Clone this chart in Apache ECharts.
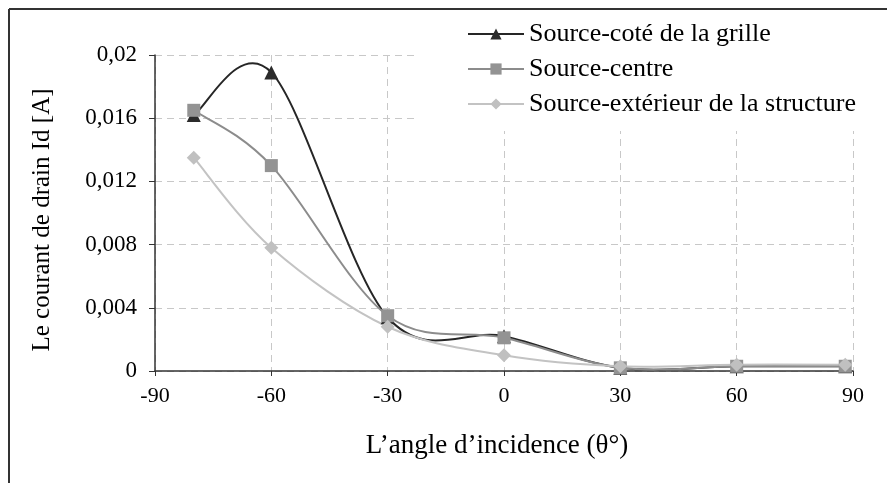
<!DOCTYPE html>
<html>
<head>
<meta charset="utf-8">
<script src="https://cdn.jsdelivr.net/npm/echarts@6/dist/echarts.min.js"></script>
<style>
html,body{margin:0;padding:0;background:#fff;}
#chart{width:887px;height:483px;}
</style>
</head>
<body>
<div id="chart"></div>
<script>
var angles = [-80, -60, -30, 0, 30, 60, 88];
var coteGrille = [0.0162, 0.0189, 0.0034, 0.0022, 0.0002, 0.0003, 0.0003];
var centre = [0.0165, 0.0130, 0.0035, 0.0021, 0.0002, 0.0003, 0.0003];
var exterieur = [0.0135, 0.0078, 0.0028, 0.0010, 0.0003, 0.0004, 0.0004];
var seriesNames = ['Source-coté de la grille', 'Source-centre', 'Source-extérieur de la structure'];
var xTitle = 'L’angle d’incidence (θ°)';
var yTitle = 'Le courant de drain Id [A]';

var colors = {
  line: ['#262626', '#8c8c8c', '#c3c3c3'],
  marker: ['#2b2b2b', '#939393', '#c0c0c0']
};

function pairs(ys){ return angles.map(function(a,i){ return [a, ys[i]]; }); }

// Smooth curve through the data points (Catmull-Rom style Bezier, as a spreadsheet "smoothed line")
var K = 1/6;
function smoothPath(api, ys){
  var pts = angles.map(function(a,i){ return api.coord([a, ys[i]]); });
  var n = pts.length;
  var d = 'M' + pts[0][0] + ' ' + pts[0][1];
  for (var i = 0; i < n - 1; i++){
    var p0 = pts[Math.max(i-1,0)], p1 = pts[i], p2 = pts[i+1], p3 = pts[Math.min(i+2,n-1)];
    var c1x = p1[0] + (p2[0]-p0[0])*K, c1y = p1[1] + (p2[1]-p0[1])*K;
    var c2x = p2[0] - (p3[0]-p1[0])*K, c2y = p2[1] - (p3[1]-p1[1])*K;
    d += ' C' + c1x + ' ' + c1y + ' ' + c2x + ' ' + c2y + ' ' + p2[0] + ' ' + p2[1];
  }
  return d;
}
function curveSeries(ys, idx){
  return {
    type: 'custom', silent: true, z: 2 + idx * 0.1,
    data: [[angles[0], ys[0]]],
    renderItem: function(params, api){
      return {type: 'path', shape: {pathData: smoothPath(api, ys)},
              style: {fill: 'none', stroke: colors.line[idx], lineWidth: 2}};
    }
  };
}

var FONT = '"Liberation Serif", "Times New Roman", serif';
var chart = echarts.init(document.getElementById('chart'));
chart.setOption({
  animation: false,
  backgroundColor: '#fff',
  textStyle: {fontFamily: FONT, color: '#000'},
  grid: {left: 155, right: 34, top: 55, bottom: 112},
  legend: {
    orient: 'vertical',
    left: 418, top: 10,
    padding: [11, 40, 14, 49],
    backgroundColor: '#fff',
    itemWidth: 56, itemHeight: 14, itemGap: 9,
    textStyle: {fontFamily: FONT, fontSize: 26, color: '#000', lineHeight: 26},
    data: seriesNames.map(function(nm, i){
      return {name: nm, lineStyle: {color: colors.line[i], width: 2, opacity: 1}};
    })
  },
  xAxis: {
    type: 'value', min: -90, max: 90, interval: 30,
    name: xTitle, nameLocation: 'middle', nameGap: 61,
    nameTextStyle: {fontFamily: FONT, fontSize: 27, color: '#000', padding: [0, 14, 0, 0]},
    axisLine: {show: true, onZero: false, lineStyle: {color: '#333', width: 1.5}},
    axisTick: {show: true, inside: false, length: 5, lineStyle: {color: '#333'}},
    axisLabel: {fontFamily: FONT, fontSize: 22, color: '#000', margin: 14},
    splitLine: {show: true, lineStyle: {color: '#c8c8c8', type: [7, 5], width: 1}}
  },
  yAxis: {
    type: 'value', min: 0, max: 0.02, interval: 0.004,
    name: yTitle, nameLocation: 'middle', nameGap: 100, nameRotate: 90,
    nameTextStyle: {fontFamily: FONT, fontSize: 25, color: '#000', padding: [0, 14, 0, 0]},
    axisLine: {show: true, onZero: false, lineStyle: {color: '#333', width: 1.5}},
    axisTick: {show: true, inside: false, length: 6, lineStyle: {color: '#333'}},
    axisLabel: {fontFamily: FONT, fontSize: 23, color: '#000', margin: 18,
      formatter: function(v){ return String(parseFloat(v.toFixed(4))).replace('.', ','); }},
    splitLine: {show: true, lineStyle: {color: '#c8c8c8', type: [7, 5], width: 1}}
  },
  series: [
    curveSeries(coteGrille, 0),
    curveSeries(centre, 1),
    curveSeries(exterieur, 2),
    {name: seriesNames[0], type: 'line', data: pairs(coteGrille),
     symbol: 'triangle', symbolSize: 14, showAllSymbol: true,
     lineStyle: {color: colors.line[0], width: 2, opacity: 0}, itemStyle: {color: colors.marker[0]}, z: 3},
    {name: seriesNames[1], type: 'line', data: pairs(centre),
     symbol: 'rect', symbolSize: 13, showAllSymbol: true,
     lineStyle: {color: colors.line[1], width: 2, opacity: 0}, itemStyle: {color: colors.marker[1]}, z: 4},
    {name: seriesNames[2], type: 'line', data: pairs(exterieur),
     symbol: 'diamond', symbolSize: 14, showAllSymbol: true,
     lineStyle: {color: colors.line[2], width: 2, opacity: 0}, itemStyle: {color: colors.marker[2]}, z: 5}
  ],
  graphic: [
    {type: 'line', z: 100, shape: {x1: 9, y1: 9, x2: 887, y2: 9}, style: {stroke: '#333', lineWidth: 2}},
    {type: 'line', z: 100, shape: {x1: 9, y1: 9, x2: 9, y2: 483}, style: {stroke: '#333', lineWidth: 2}}
  ]
});
</script>
</body>
</html>
